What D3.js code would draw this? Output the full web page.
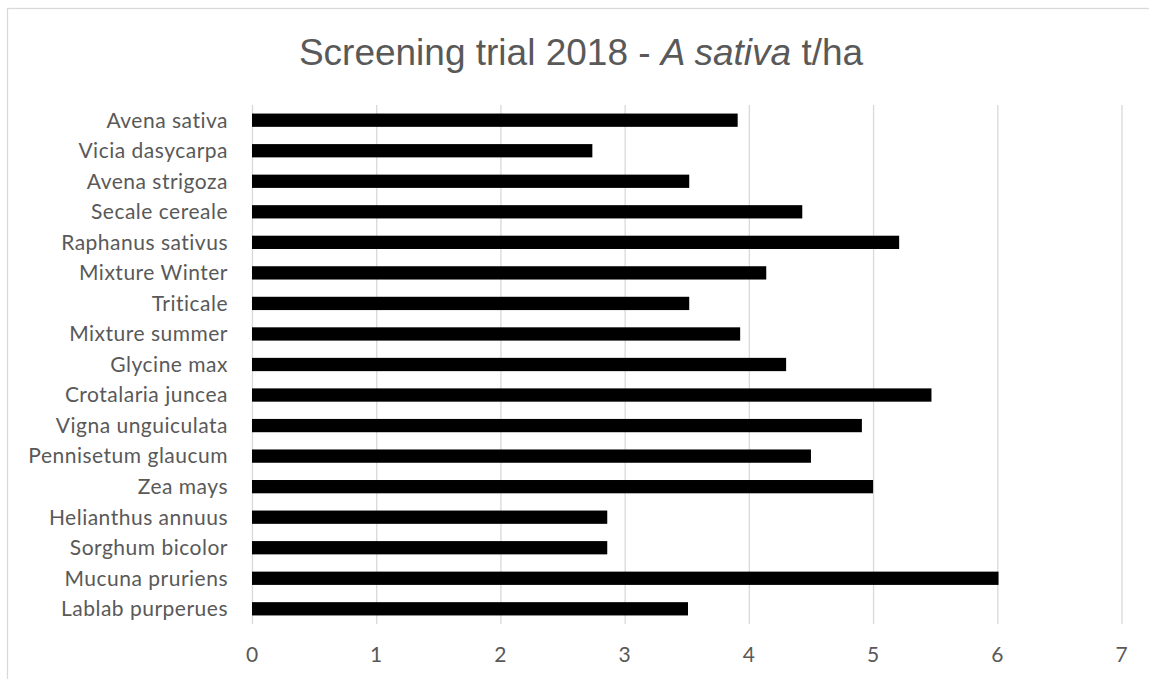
<!DOCTYPE html>
<html>
<head>
<meta charset="utf-8">
<script src="https://cdn.jsdelivr.net/npm/d3@7"></script>
<style>
  body { margin: 0; background: #fff; }
  .grid line { stroke: #d9d9d9; stroke-width: 1.3; }
  .grid path { display: none; }
</style>
</head>
<body>
<svg id="container" width="1149" height="679"></svg>
<script>
let width = 1149,
    height = 679;

// categories top to bottom, as in the chart
let species = ["Avena sativa", "Vicia dasycarpa", "Avena strigoza", "Secale cereale",
    "Raphanus sativus", "Mixture Winter ", "Triticale", "Mixture summer", "Glycine max",
    "Crotalaria juncea", "Vigna unguiculata", "Pennisetum glaucum", "Zea mays",
    "Helianthus annuus", "Sorghum bicolor", "Mucuna pruriens", "Lablab purperues"]

// yield t/ha
let yields = [3.91, 2.74, 3.52, 4.43, 5.21, 4.14, 3.52, 3.93, 4.30,
    5.47, 4.91, 4.50, 5.00, 2.86, 2.86, 6.01, 3.51]

let xTicks = [0, 1, 2, 3, 4, 5, 6, 7]

let data = species.map((s, i) => ({ name: s, value: yields[i] }))

let svg = d3.select("#container")

// chart frame
svg.append("rect")
    .attr("x", 7.5)
    .attr("y", 8.5)
    .attr("width", 1200)
    .attr("height", 700)
    .attr("fill", "none")
    .attr("stroke", "#d9d9d9")
    .attr("stroke-width", 1.3)

let title = svg.append("text")
    .attr("x", 581)
    .attr("y", 65)
    .attr("text-anchor", "middle")
    .attr("fill", "#595959")
    .attr("font-family", "Liberation Sans, Arial, sans-serif")
    .attr("font-size", "37px")
title.append("tspan").text("Screening trial 2018 - ")
title.append("tspan").attr("font-style", "italic").text("A sativa")
title.append("tspan").text(" t/ha")

let xScale = d3.scaleLinear()
    .range([252, 1121.5])
    .domain([0, 7])

let yScale = d3.scaleBand()
    .range([105, 624])
    .domain(species)
    .paddingInner(0.565)
    .paddingOuter(0.28)

// vertical gridlines
svg.append("g")
    .attr("class", "grid")
    .attr("transform", "translate(0,624)")
    .call(d3.axisBottom(xScale)
        .tickValues(xTicks)
        .tickSize(-(624 - 105))
        .tickFormat(""))

// x tick labels
svg.append("g")
    .selectAll("text")
    .data(xTicks)
    .enter()
    .append("text")
    .attr("x", d => xScale(d))
    .attr("y", 662)
    .attr("text-anchor", "middle")
    .attr("fill", "#595959")
    .attr("font-family", "Lato, sans-serif")
    .attr("font-size", "21px")
    .text(d => d)

// category labels
svg.append("g")
    .selectAll("text")
    .data(species)
    .enter()
    .append("text")
    .attr("x", 228)
    .attr("y", d => yScale(d) + yScale.bandwidth() / 2)
    .attr("dy", "0.35em")
    .attr("text-anchor", "end")
    .attr("fill", "#595959")
    .attr("font-family", "Lato, sans-serif")
    .attr("font-size", "21px")
    .attr("letter-spacing", "0.5px")
    .text(d => d)

// bars
svg.append("g")
    .selectAll("rect")
    .data(data)
    .enter()
    .append("rect")
    .attr("x", xScale(0))
    .attr("y", d => yScale(d.name))
    .attr("width", d => xScale(d.value) - xScale(0))
    .attr("height", yScale.bandwidth())
    .attr("fill", "#000")
</script>
</body>
</html>
